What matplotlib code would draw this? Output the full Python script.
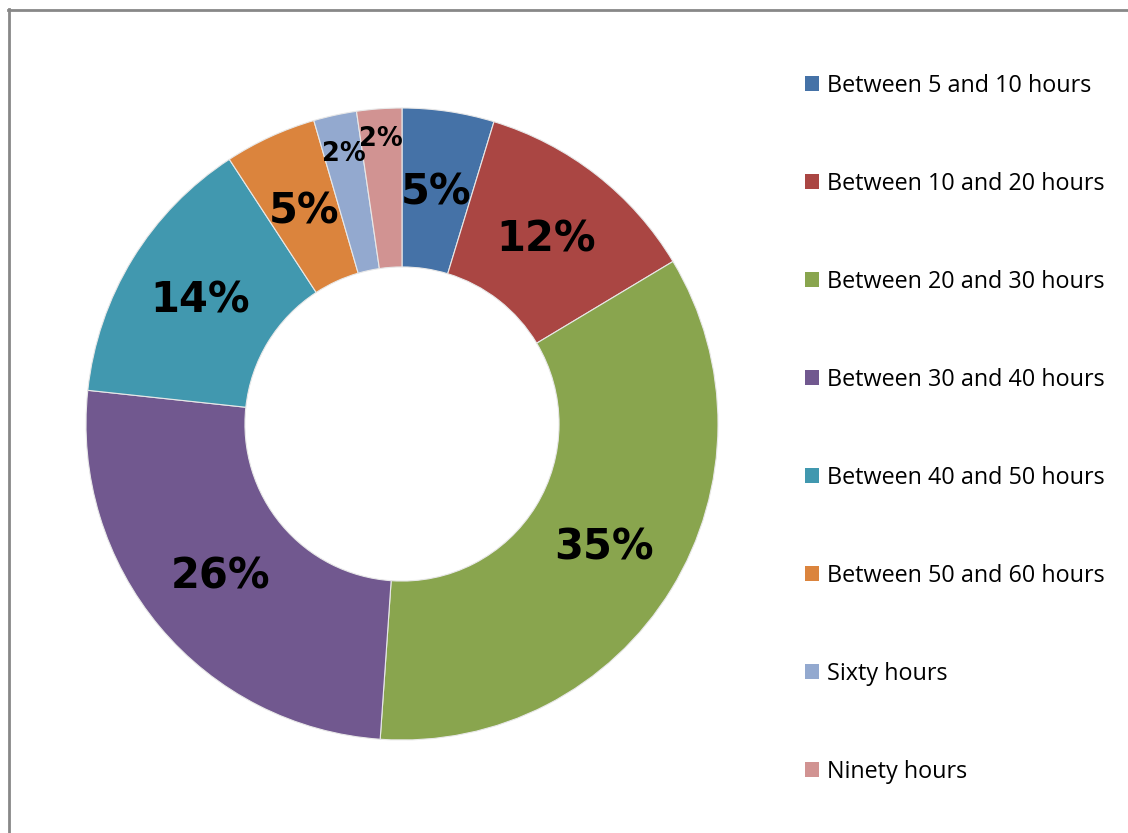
import numpy as np
import matplotlib.pyplot as plt
from matplotlib.patches import Patch

# data (percent of respondents)
categories = ['Between 5 and 10 hours', 'Between 10 and 20 hours',
              'Between 20 and 30 hours', 'Between 30 and 40 hours',
              'Between 40 and 50 hours', 'Between 50 and 60 hours',
              'Sixty hours', 'Ninety hours']
values = [4.7, 11.7, 34.7, 25.6, 14.1, 4.7, 2.2, 2.3]
colors = ['#4572A7', '#AA4643', '#89A54E', '#71588F',
          '#4198AF', '#DB843D', '#93A9CF', '#D19392']

# label placement / size per slice (small slices pushed outward)
label_r = [0.74, 0.74, 0.75, 0.75, 0.75, 0.74, 0.875, 0.905]
label_size = [30, 30, 30, 30, 30, 30, 18.5, 18.5]

W, H = 1128, 833
fig = plt.figure(figsize=(W / 100, H / 100), dpi=100)

cx, cy, R = 402, 424, 316
ax = fig.add_axes([(cx - R) / W, (H - cy - R) / H, 2 * R / W, 2 * R / H])
wedges, _ = ax.pie(values, colors=colors, startangle=90, counterclock=False,
                   radius=1, wedgeprops=dict(width=0.503, edgecolor='#e8e8e8', linewidth=0.8))
ax.set_xlim(-1, 1)
ax.set_ylim(-1, 1)
ax.set_aspect('equal')
ax.axis('off')

total = sum(values)
start = 90.0
for v, r, fs in zip(values, label_r, label_size):
    mid = np.deg2rad(start - v / total * 360 / 2)
    start -= v / total * 360
    ax.text(r * np.cos(mid), r * np.sin(mid), '%d%%' % round(v / total * 100),
            ha='center', va='center', fontsize=fs, fontweight='bold', color='black',
            family='DejaVu Sans')

handles = [Patch(facecolor=c, edgecolor='none') for c in colors]
fig.legend(handles, categories, loc='upper left', bbox_to_anchor=(805 / W, 1 - 74 / H),
           frameon=False, prop={'family': 'Open Sans', 'size': 16.8},
           handlelength=0.62, handleheight=0.62, handletextpad=0.32, labelspacing=3.17,
           borderaxespad=0, borderpad=0)

# gray outer frame (only left and top visible in reference)
fig.add_artist(plt.Line2D([9 / W, 9 / W], [0, 1 - 9 / H], color='#888888', lw=2,
                          transform=fig.transFigure))
fig.add_artist(plt.Line2D([8 / W, 1], [1 - 10 / H, 1 - 10 / H], color='#888888', lw=2,
                          transform=fig.transFigure))

fig.savefig('out.png', dpi=100, facecolor='white')
